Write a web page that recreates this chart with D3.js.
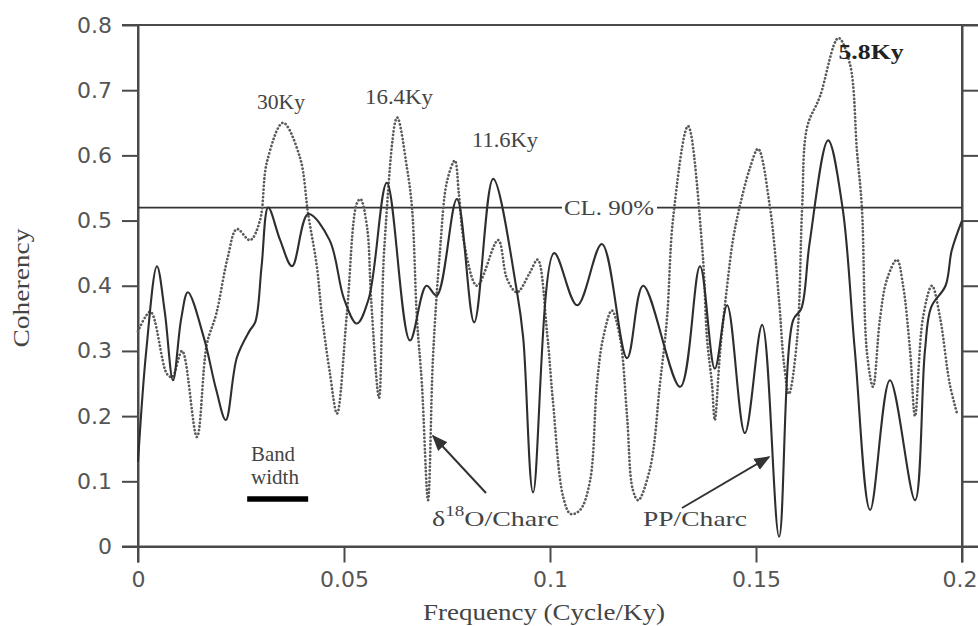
<!DOCTYPE html>
<html>
<head>
<meta charset="utf-8">
<script src="https://cdn.jsdelivr.net/npm/d3@7/dist/d3.min.js"></script>
<style>
  html, body { margin: 0; padding: 0; background: #fff; }
  svg { display: block; }
</style>
</head>
<body>
<svg id="chart" width="978" height="626"></svg>
<script>
// ---- data ----
const xTicks = [0, 0.05, 0.1, 0.15, 0.2];
const yTicks = [0, 0.1, 0.2, 0.3, 0.4, 0.5, 0.6, 0.7, 0.8];
const confidenceLevel = 0.52;   // CL 90%
const bandWidth = 0.0148;       // band width in cycle/Ky

// PP/Charc (solid)
const ppFreq = [0.0,0.002,0.0046,0.0065,0.0085,0.0105,0.0121,0.016,0.019,0.0213,0.024,0.027,0.0285,0.030,0.0316,0.0345,0.0374,0.0413,0.0465,0.050,0.0531,0.056,0.0604,0.066,0.070,0.0725,0.0774,0.0816,0.0862,0.092,0.0935,0.0959,0.101,0.1066,0.1126,0.1187,0.1226,0.1316,0.1364,0.140,0.143,0.1473,0.1515,0.1556,0.159,0.161,0.163,0.1675,0.171,0.174,0.1777,0.1825,0.1886,0.191,0.1925,0.196,0.1975,0.2];
const ppCoh  = [0.13,0.30,0.43,0.36,0.255,0.35,0.39,0.32,0.24,0.194,0.29,0.33,0.345,0.43,0.52,0.47,0.43,0.51,0.47,0.38,0.342,0.38,0.558,0.316,0.40,0.385,0.533,0.344,0.564,0.39,0.32,0.083,0.45,0.37,0.464,0.289,0.40,0.245,0.43,0.273,0.37,0.174,0.34,0.015,0.347,0.365,0.465,0.623,0.52,0.30,0.056,0.255,0.071,0.30,0.367,0.40,0.454,0.50];

// d18O/Charc (dotted)
const o18Freq = [0.0,0.003,0.007,0.0083,0.0107,0.0143,0.0167,0.019,0.0218,0.024,0.0272,0.0296,0.0313,0.0352,0.0393,0.0413,0.0434,0.0446,0.0466,0.0483,0.0507,0.0531,0.054,0.0556,0.0566,0.0585,0.0598,0.0629,0.0653,0.0665,0.0677,0.0689,0.0704,0.0716,0.0733,0.075,0.0769,0.0779,0.0792,0.0823,0.0874,0.0896,0.092,0.0951,0.097,0.0993,0.1007,0.1032,0.105,0.1073,0.1097,0.1114,0.1129,0.115,0.117,0.1187,0.1201,0.1214,0.1243,0.1267,0.1284,0.1299,0.1335,0.137,0.1381,0.1393,0.1400,0.1413,0.143,0.1444,0.146,0.1485,0.1505,0.1534,0.1556,0.1568,0.158,0.160,0.1612,0.1624,0.1655,0.170,0.1728,0.1745,0.1757,0.1769,0.1784,0.1801,0.1818,0.1842,0.1857,0.1874,0.1886,0.1905,0.1927,0.1947,0.197,0.1988];
const o18Coh  = [0.33,0.36,0.265,0.26,0.30,0.168,0.31,0.357,0.444,0.487,0.47,0.50,0.59,0.65,0.597,0.51,0.43,0.357,0.265,0.204,0.357,0.526,0.533,0.49,0.377,0.228,0.46,0.658,0.58,0.52,0.35,0.25,0.071,0.29,0.454,0.56,0.592,0.54,0.464,0.40,0.47,0.41,0.39,0.42,0.44,0.327,0.224,0.076,0.05,0.056,0.10,0.25,0.32,0.362,0.32,0.20,0.087,0.071,0.12,0.25,0.35,0.505,0.645,0.454,0.32,0.25,0.194,0.30,0.40,0.47,0.52,0.58,0.61,0.52,0.377,0.28,0.234,0.32,0.52,0.643,0.69,0.78,0.74,0.607,0.52,0.30,0.245,0.35,0.41,0.44,0.40,0.30,0.20,0.35,0.40,0.35,0.25,0.204];

// ---- layout ----
const svg = d3.select("#chart");
const margin = {left: 138, top: 25, right: 16, bottom: 79.5};
const W = 978, H = 626;
const x = d3.scaleLinear().domain([0, 0.2]).range([margin.left, W - margin.right]);
const y = d3.scaleLinear().domain([0, 0.8]).range([H - margin.bottom, margin.top]);
const axisColor = "#4a4a4a";
const ext = 16;

const fmtX = d => d === 0 ? "0" : String(+d.toFixed(2));
const fmtY = d => d === 0 ? "0" : d3.format(".1f")(d);

function styleAxis(g) {
  g.selectAll("path.domain").attr("stroke", axisColor).attr("stroke-width", 2);
  g.selectAll(".tick line").attr("stroke", axisColor).attr("stroke-width", 2);
  g.selectAll(".tick text").attr("fill", "#555")
    .style("font-family", "'DejaVu Sans', sans-serif").style("font-size", "22px");
}

// left axis
svg.append("g").attr("transform", `translate(${x(0)},0)`)
  .call(d3.axisLeft(y).tickValues(yTicks).tickFormat(fmtY).tickSize(ext).tickSizeOuter(0).tickPadding(10))
  .call(styleAxis);
// bottom axis
const xAxisG = svg.append("g").attr("transform", `translate(0,${y(0)})`)
  .call(d3.axisBottom(x).tickValues(xTicks).tickFormat(fmtX).tickSize(ext).tickSizeOuter(0).tickPadding(9))
  .call(styleAxis);
// last label sits flush at the right edge, as in the original
xAxisG.selectAll(".tick text").filter(d => d === 0.2).attr("text-anchor", "end").attr("x", W - x(0.2) - 1);
// right axis (labels cut off in original)
svg.append("g").attr("transform", `translate(${x(0.2)},0)`)
  .call(d3.axisRight(y).tickValues(yTicks).tickFormat("").tickSize(ext).tickSizeOuter(0))
  .call(styleAxis);

// frame extensions
const frame = svg.append("g").attr("stroke", axisColor).attr("stroke-width", 2);
frame.append("line").attr("x1", x(0) - ext).attr("x2", W).attr("y1", y(0.8)).attr("y2", y(0.8));
frame.append("line").attr("x1", x(0) - ext).attr("x2", W).attr("y1", y(0)).attr("y2", y(0));
frame.append("line").attr("x1", x(0)).attr("x2", x(0)).attr("y1", y(0.8)).attr("y2", y(0) + ext);
frame.append("line").attr("x1", x(0.2)).attr("x2", x(0.2)).attr("y1", y(0.8)).attr("y2", y(0) + ext);

// axis titles
const serif = "'Liberation Serif', 'Times New Roman', serif";
svg.append("text").attr("x", 544).attr("y", 620).attr("text-anchor", "middle")
  .attr("textLength", 242).attr("lengthAdjust", "spacingAndGlyphs")
  .style("font-family", serif).style("font-size", "24px").attr("fill", "#444")
  .text("Frequency (Cycle/Ky)");
svg.append("text").attr("transform", "translate(29,288) rotate(-90)").attr("text-anchor", "middle")
  .attr("textLength", 119).attr("lengthAdjust", "spacingAndGlyphs")
  .style("font-family", serif).style("font-size", "24px").attr("fill", "#444")
  .text("Coherency");

// CL 90% line
svg.append("line").attr("x1", x(0)).attr("x2", x(0.2)).attr("y1", y(confidenceLevel)).attr("y2", y(confidenceLevel))
  .attr("stroke", "#333").attr("stroke-width", 1.8);

// curves
const line = d3.line().x(d => x(d[0])).y(d => y(d[1])).curve(d3.curveCatmullRom.alpha(0.5));
const o18Data = o18Freq.map((f, i) => [f, o18Coh[i]]);
const ppData = ppFreq.map((f, i) => [f, ppCoh[i]]);

svg.append("path").datum(o18Data).attr("d", line).attr("fill", "none")
  .attr("stroke", "#5a5a5a").attr("stroke-width", 2.7)
  .attr("stroke-dasharray", "0.1,3.6").attr("stroke-linecap", "round");
svg.append("path").datum(ppData).attr("d", line).attr("fill", "none")
  .attr("stroke", "#2e2e2e").attr("stroke-width", 2.1).attr("stroke-linejoin", "round");

// CL label with white background
const clG = svg.append("g");
clG.append("rect").attr("x", 562).attr("y", y(confidenceLevel) - 10).attr("width", 95).attr("height", 20).attr("fill", "#fff");
clG.append("text").attr("x", 564).attr("y", y(confidenceLevel) + 7)
  .attr("textLength", 90).attr("lengthAdjust", "spacingAndGlyphs")
  .style("font-family", serif).style("font-size", "21px").attr("fill", "#444").text("CL. 90%");

// peak labels
function label(txt, cx, by, len, bold) {
  svg.append("text").attr("x", cx).attr("y", by).attr("text-anchor", "middle")
    .attr("textLength", len).attr("lengthAdjust", "spacingAndGlyphs")
    .style("font-family", serif).style("font-size", "21px")
    .style("font-weight", bold ? "bold" : "normal").attr("fill", bold ? "#222" : "#444").text(txt);
}
label("30Ky", 281, 109, 48);
label("16.4Ky", 399, 104, 68);
label("11.6Ky", 505, 147, 66);
label("5.8Ky", 871, 59, 65, true);

// band width
label("Band", 273, 461, 44);
label("width", 275, 484, 48);
const bandStart = 0.0265;
svg.append("line").attr("x1", x(bandStart)).attr("x2", x(bandStart + bandWidth))
  .attr("y1", 499).attr("y2", 499).attr("stroke", "#000").attr("stroke-width", 5.5);

// arrows
const defs = svg.append("defs");
defs.append("marker").attr("id", "ah").attr("viewBox", "0 0 10 10").attr("refX", 9).attr("refY", 5)
  .attr("markerWidth", 16).attr("markerHeight", 16).attr("markerUnits", "userSpaceOnUse")
  .attr("orient", "auto")
  .append("path").attr("d", "M0,1 L10,5 L0,9 Z").attr("fill", "#333");

svg.append("line").attr("x1", 486).attr("y1", 493).attr("x2", 433).attr("y2", 436)
  .attr("stroke", "#333").attr("stroke-width", 2).attr("marker-end", "url(#ah)");
svg.append("line").attr("x1", 682).attr("y1", 508).attr("x2", 769).attr("y2", 457)
  .attr("stroke", "#333").attr("stroke-width", 2).attr("marker-end", "url(#ah)");

// series labels
const o18Label = svg.append("text").attr("x", 432).attr("y", 526)
  .attr("textLength", 127).attr("lengthAdjust", "spacingAndGlyphs")
  .style("font-family", serif).style("font-size", "22px").attr("fill", "#444");
o18Label.append("tspan").text("δ");
o18Label.append("tspan").attr("dy", -10).style("font-size", "15px").text("18");
o18Label.append("tspan").attr("dy", 10).text("O/Charc");

svg.append("text").attr("x", 643).attr("y", 526)
  .attr("textLength", 104).attr("lengthAdjust", "spacingAndGlyphs")
  .style("font-family", serif).style("font-size", "21px").attr("fill", "#444").text("PP/Charc");
</script>
</body>
</html>
